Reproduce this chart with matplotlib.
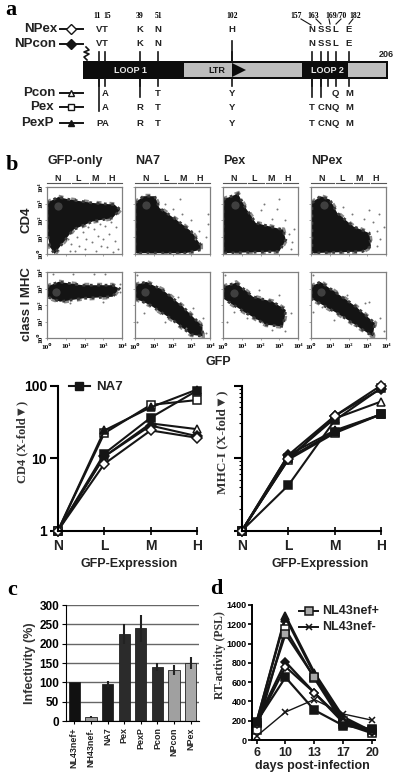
import matplotlib
matplotlib.use('Agg')
import matplotlib.pyplot as plt
import numpy as np
from matplotlib.patches import Polygon, Rectangle
from matplotlib.ticker import NullFormatter, LogLocator

plt.rcParams['font.family'] = ['Liberation Sans', 'DejaVu Sans']
plt.rcParams['font.weight'] = 'bold'
SERIF = ['Liberation Serif', 'DejaVu Sans']
W, H = 400, 780
INK = '#151515'
GREY = '#a8a8a8'

# panel a
residues = [11, 15, 39, 51, 102, 157, 163, 168, 173, 182]
residue_titles = ['11', '15', '39', '51', '102', '157', '163', '169/70', '182']
npex_aa = list('VTKNHNSSLE')
npcon_aa = ['V', 'T', 'K', 'N', '', 'N', 'S', 'S', 'L', 'E']
pcon_aa = ['', 'A', '', 'T', 'Y', '', '', '', 'Q', 'M']
pex_aa = ['', 'A', 'R', 'T', 'Y', 'T', 'C', 'N', 'Q', 'M']
pexp_aa = ['P', 'A', 'R', 'T', 'Y', 'T', 'C', 'N', 'Q', 'M']
protein_len = 206

# panel b, gated blobs in log decades (outline)
flow_names = ['GFP-only', 'NA7', 'Pex', 'NPex']
gates = ['N', 'L', 'M', 'H']
cd4_blobs = [
    [(0, 3.05), (0.6, 3.4), (1.2, 3.25), (2.4, 3.05), (3.6, 2.95), (3.9, 2.65), (3.5, 2.15), (2.45, 1.95), (1.4, 1.45), (0.7, 0.45), (0.4, 0), (0.15, 0.45), (0, 1.45)],
    [(0, 3.05), (0.45, 3.45), (1.05, 3.45), (1.3, 2.75), (2.2, 2.05), (3.0, 1.35), (3.5, 0.55), (3.5, 0.25), (2.7, 0.05), (0, 0.05)],
    [(0, 3.25), (0.8, 3.6), (1.15, 2.85), (1.75, 1.85), (3.2, 1.45), (3.35, 0.85), (3.0, 0.15), (0, 0.05)],
    [(0.05, 3.05), (0.5, 3.45), (1.0, 3.25), (1.4, 2.45), (2.25, 1.65), (3.1, 1.25), (3.2, 0.45), (2.75, 0.15), (0.05, 0.05)],
]
mhc_blobs = [
    [(0, 3.1), (0.6, 3.4), (1.9, 3.2), (3.5, 3.2), (3.85, 3), (3.5, 2.5), (1.9, 2.4), (0.7, 2.2), (0, 2.5)],
    [(0, 3.2), (0.6, 3.4), (1.5, 2.9), (2.55, 1.9), (3.6, 0.7), (3.6, 0.1), (3, 0.2), (2.0, 1.1), (0.8, 2), (0, 2.4)],
    [(0, 3.1), (0.7, 3.35), (1.6, 2.5), (2.65, 2.2), (3.35, 1.7), (3.2, 0.7), (2.3, 0.8), (1.25, 1.5), (0, 2.4)],
    [(0, 3.1), (0.5, 3.4), (1.4, 2.7), (2.4, 1.9), (3.4, 0.9), (3.3, 0.1), (2.75, 0.5), (1.55, 1.4), (0, 2.4)],
]
# stray events seen outside the blobs
cd4_stray = [
    [(1.6, 1.0), (1.9, 1.3), (2.2, 1.6), (2.5, 1.5), (2.8, 1.8), (3.1, 1.7), (3.4, 1.9), (3.7, 1.6), (1.3, 0.6), (1.7, 0.5), (2.1, 0.9), (2.4, 0.7), (2.7, 1.1), (3.0, 0.9), (3.3, 1.2), (3.6, 0.8), (1.5, 0.2), (2.0, 0.3), (2.6, 0.2), (3.2, 0.4), (3.8, 0.3), (3.5, 0.1), (1.1, 0.9), (2.9, 0.5), (1.2, 0.2)],
    [(1.6, 3.0), (2.0, 2.7), (2.5, 2.4), (3.0, 2.0), (3.4, 1.4), (3.8, 1.0), (3.9, 2.4), (3.9, 1.8), (2.4, 3.3), (3.2, 0.9)],
    [(2.0, 2.6), (2.6, 2.1), (3.0, 3.3), (3.3, 2.0), (3.5, 1.2), (3.7, 0.7), (3.6, 0.3), (2.9, 2.7), (2.2, 3.0), (3.8, 1.5)],
    [(1.7, 2.8), (2.2, 2.4), (2.8, 2.1), (3.3, 1.9), (3.5, 1.4), (3.7, 0.9), (3.6, 2.4), (3.5, 0.5), (3.1, 2.6), (3.9, 1.6)],
]
mhc_stray = [
    [(0.3, 3.9), (1.4, 3.9), (2.5, 3.9), (3.1, 3.9), (3.0, 2.2), (1.2, 2.1), (3.9, 3.3), (3.9, 2.8)],
    [(0.1, 3.8), (0.1, 1.0), (0.5, 1.5), (1.1, 1.7), (2.3, 2.5), (3.1, 1.8), (3.6, 1.2), (3.8, 0.3), (1.6, 1.0), (2.7, 0.6)],
    [(0.1, 3.8), (0.2, 1.0), (0.6, 1.6), (1.3, 1.2), (2.1, 1.0), (3.0, 2.6), (3.6, 1.5), (3.3, 0.4), (2.6, 0.5), (1.9, 2.9)],
    [(0.1, 3.8), (0.1, 1.6), (0.6, 1.9), (1.2, 1.1), (2.3, 0.8), (2.9, 2.1), (3.7, 1.2), (3.9, 0.4), (3.1, 2.2), (1.9, 2.6)],
]
cd4_core = [(0.6, 2.85), (0.6, 2.95), (0.65, 2.95), (0.7, 2.95)]
mhc_core = [(0.5, 2.8), (0.55, 2.8), (0.6, 2.75), (0.55, 2.8)]

# line panels
levels = ['N', 'L', 'M', 'H']
cd4_fold = {
    'Pcon': ([1, 10.5, 30, 25], '^', 'white'),
    'NPcon': ([1, 10.5, 28, 20], 'D', INK),
    'NA7': ([1, 11.5, 36, 85], 's', INK),
    'Pex': ([1, 22, 54, 63], 's', 'white'),
    'PexP': ([1, 24, 50, 88], '^', INK),
    'NPex': ([1, 8.3, 24, 19], 'D', 'white'),
}
mhc_fold = {
    'Pex': ([1, 9.5, 22, 40], 's', 'white'),
    'PexP': ([1, 11, 24, 40], '^', INK),
    'NL': ([1, 10, 23, 40], 's', INK),
    'Pcon': ([1, 10, 35, 60], '^', 'white'),
    'NA7': ([1, 4.2, 33, 92], 's', INK),
    'NPcon': ([1, 11, 38, 90], 'D', INK),
    'NPex': ([1, 9.6, 38, 100], 'D', 'white'),
}

# panel c
virus = ['NL43nef+', 'NH43nef-', 'NA7', 'Pex', 'PexP', 'Pcon', 'NPcon', 'NPex']
infectivity = [100, 10, 95, 225, 240, 140, 132, 150]
infectivity_err = [0, 3, 8, 25, 35, 10, 14, 15]
bar_colors = ['#111111', '#999999', '#1c1c1c', '#2b2b2b', '#2b2b2b', '#2b2b2b', '#a0a0a0', '#a8a8a8']

# panel d
days = ['6', '10', '13', '17', '20']
rt_activity = {
    'Pcon': ([190, 1290, 700, 240, 90], '^', 'white'),
    'PexP': ([190, 1270, 680, 220, 80], '^', INK),
    'Pex': ([100, 1150, 640, 170, 70], 's', 'white'),
    'NL43nef+': ([180, 1100, 650, 200, 100], 's', GREY),
    'NPcon': ([190, 810, 490, 200, 80], 'D', INK),
    'NPex': ([170, 760, 490, 180, 90], 'D', 'white'),
    'NA7': ([190, 650, 310, 150, 110], 's', INK),
    'NL43nef-': ([40, 290, 420, 270, 205], 'x', INK),
}


def px_axes(fig, left, top, right, bottom):
    return fig.add_axes([left / W, 1 - bottom / H, (right - left) / W, (bottom - top) / H])


fig = plt.figure(figsize=(W / 100, H / 100), dpi=100)
bg = fig.add_axes([0, 0, 1, 1])
bg.set_xlim(0, W)
bg.set_ylim(H, 0)
bg.axis('off')


def res_x(r):
    return np.interp(r, [0, 102, 157, 182, 206], [83, 232, 312, 349, 388])


bg.text(11, 10, 'a', family=SERIF, fontsize=16, ha='center', va='center')
bg.text(12, 165, 'b', family=SERIF, fontsize=16, ha='center', va='center')
bg.text(12, 590, 'c', family=SERIF, fontsize=16, ha='center', va='center')
bg.text(216, 589, 'd', family=SERIF, fontsize=16, ha='center', va='center')

# panel a schematic
bg.add_patch(Rectangle((83, 61), 305, 18, fc='#0c0c0c', ec='none'))
bg.add_patch(Rectangle((184, 63), 118, 14, fc='#bdbdbd', ec='none'))
bg.add_patch(Rectangle((348, 63), 38, 14, fc='#bdbdbd', ec='none'))
bg.add_patch(Polygon([(232, 63), (246, 70), (232, 77)], fc='#0c0c0c', ec='none'))
bg.text(131, 70.5, 'LOOP 1', color='#e8e8e8', fontsize=6.5, ha='center', va='center')
bg.text(327, 70.5, 'LOOP 2', color='#e8e8e8', fontsize=6.5, ha='center', va='center')
bg.text(217, 70.5, 'LTR', color=INK, fontsize=6.5, ha='center', va='center')
bg.text(386, 54.5, str(protein_len), fontsize=6.5, ha='center', va='center', color='#222222')
bg.plot([86, 89, 84, 89, 84, 87], [47, 50, 52, 54, 57, 60], color=INK, lw=1.2)

aa_rows = [(29, npex_aa), (44, npcon_aa), (93, pcon_aa), (108, pex_aa), (123, pexp_aa)]
for y, row in aa_rows:
    for r, aa in zip(residues, row):
        bg.text(res_x(r), y, aa, fontsize=6.8, ha='center', va='center', color='#222222')

for r in residues:
    bg.plot([res_x(r)] * 2, [52, 61], color=INK, lw=1.2)
    bg.plot([res_x(r)] * 2, [79, 86], color=INK, lw=1.2)
bg.plot([res_x(102)] * 2, [41, 61], color=INK, lw=1.2)
bg.plot([res_x(11)] * 2, [79, 111], color=INK, lw=1.2)
for r in [39, 157, 163]:
    bg.plot([res_x(r)] * 2, [79, 97], color=INK, lw=1.2)

title_x = [97, 107.5, 140, 159, 232, 296, 313, 336, 355]
for t, x in zip(residue_titles, title_x):
    bg.text(x, 15.5, t, family=SERIF, fontsize=5.5, ha='center', va='center')
for x0, y0, x1, y1 in [(301, 19, 311, 25), (316, 19, 321, 24), (329, 19, 330, 24), (341, 19, 336, 24), (353, 19, 349, 24)]:
    bg.plot([x0, x1], [y0, y1], color=INK, lw=0.8)

key_rows = [('NPex', 57, 29, 'D', 'white'), ('NPcon', 56, 44, 'D', INK), ('Pcon', 55, 93, '^', 'white'),
            ('Pex', 54, 107, 's', 'white'), ('PexP', 54, 123, '^', INK)]
for name, x, y, m, fc in key_rows:
    bg.text(x, y, name, fontsize=9.5, ha='right', va='center', color='#222222')
    bg.plot([60, 83], [y, y], color=INK, lw=1.4)
    bg.plot([71], [y], marker=m, ms=5, mfc=fc, mec=INK, mew=1)

# panel b dot plots
col_x = [47, 135, 223, 311]
decades = [0, 1, 2, 3, 4]
dec_labels = ['10⁰', '10¹', '10²', '10³', '10⁴']
for i, name in enumerate(flow_names):
    x0 = col_x[i]
    bg.text(x0, 161, name, fontsize=9, ha='left', va='center', color='#222222')
    for (a, b), g, off in zip([(0, 23), (25, 41), (43, 58), (60, 75)], gates, [11, 31, 48, 65]):
        bg.plot([x0 + a, x0 + b], [183, 183], color='#555555', lw=0.8)
        bg.text(x0 + off, 178.5, g, fontsize=6.5, ha='center', va='center', color='#222222')
    panels = [(cd4_blobs, cd4_stray, cd4_core, 187, 254), (mhc_blobs, mhc_stray, mhc_core, 272, 338)]
    for blobs, stray, core, top, bot in panels:
        ax = px_axes(fig, x0, top, x0 + 75, bot)
        ax.patch.set_alpha(0)
        ax.set_xlim(0, 4)
        ax.set_ylim(0, 4)
        ax.add_patch(Polygon(blobs[i], fc='none', ec='#8a8a8a', ls=':', lw=3.5, clip_on=True))
        ax.add_patch(Polygon(blobs[i], fc='#141414', ec='#3a3a3a', ls=':', lw=2, clip_on=True))
        sx, sy = zip(*stray[i])
        ax.scatter(sx, sy, s=2, color='#777777', lw=0)
        ax.scatter([core[i][0]], [core[i][1]], s=35, color='#4a4a4a', lw=0, alpha=0.8)
        for s in ax.spines.values():
            s.set_color('#808080')
            s.set_linewidth(0.9)
        ax.set_xticks(decades)
        ax.set_yticks(decades)
        ax.tick_params(length=1.5, width=0.5, color='#808080', labelsize=5.3)
        ax.tick_params(axis='x', pad=3)
        ax.tick_params(axis='y', pad=1)
        ax.set_xticklabels(dec_labels if blobs is mhc_blobs else [''] * 5, family=SERIF)
        ax.set_yticklabels(dec_labels if i == 0 else [''] * 5, family=SERIF, rotation=90, va='center')
bg.text(26, 220, 'CD4', fontsize=9.5, rotation=90, ha='center', va='center', color='#222222')
bg.text(27, 304, 'class I MHC', fontsize=9.5, rotation=90, ha='center', va='center', color='#222222')
bg.text(218, 362, 'GFP', fontsize=9, ha='center', va='center', color='#222222')


# line panels
def fold_panel(left, right, series, ylabel, label_x, label_size, show_y, minor):
    ax = px_axes(fig, left, 385.5, right, 530.5)
    ax.patch.set_alpha(0)
    for name, (vals, m, fc) in series.items():
        ms = 5 if m == 'D' else 6
        ax.plot(range(len(levels)), vals, color=INK, lw=1.5, marker=m, ms=ms, mfc=fc, mec=INK, mew=1.1, clip_on=False)
    ax.set_yscale('log')
    ax.set_ylim(1, 100)
    ax.set_xlim(0, 3)
    ax.spines[['top', 'right']].set_visible(False)
    ax.spines[['left', 'bottom']].set_linewidth(1.5)
    ax.set_xticks(range(len(levels)))
    ax.set_xticklabels(levels, fontsize=10, color='#222222')
    ax.tick_params(axis='x', direction='inout', length=6, width=1.2, pad=3)
    ax.tick_params(axis='y', which='major', direction='out', length=6, width=1.5, labelsize=10, pad=2)
    ax.tick_params(axis='y', which='minor', length=2.5 if minor else 0, width=0.8)
    ax.yaxis.set_major_locator(LogLocator(10))
    ax.yaxis.set_minor_formatter(NullFormatter())
    if show_y:
        ax.set_yticks([1, 10, 100])
        ax.set_yticklabels(['1', '10', '100'])
    else:
        ax.yaxis.set_major_formatter(NullFormatter())
    bg.text(label_x, 442, ylabel, family=SERIF, fontsize=label_size, rotation=90, ha='center', va='center', color='#333333')
    bg.text((left + right) / 2 + 2 if show_y else 320, 563.5, 'GFP-Expression', fontsize=9, ha='center', va='center', color='#222222')
    return ax


fold_panel(58, 197, cd4_fold, 'CD4 (X-fold▼)', 22, 9, True, False)
fold_panel(242, 381, mhc_fold, 'MHC-I (X-fold▼)', 222, 9.5, False, True)
bg.plot([69, 90], [386, 386], color=INK, lw=1.5, marker='None')
bg.plot([79], [386], marker='s', ms=6, color=INK)
bg.text(96, 387, 'NA7', fontsize=9.5, ha='left', va='center', color='#222222')

# panel c
ax = px_axes(fig, 66, 605, 199, 721)
ax.patch.set_alpha(0)
ax.yaxis.grid(True, color='#666666', lw=1)
ax.set_axisbelow(True)
ax.bar(range(len(virus)), infectivity, width=0.68, color=bar_colors, edgecolor='#222222', lw=0.6)
ax.errorbar(range(len(virus)), infectivity, yerr=infectivity_err, fmt='none', ecolor='#222222', elinewidth=1.5, capsize=0)
ax.set_xlim(-0.5, 7.5)
ax.set_ylim(0, 300)
ax.set_yticks(range(0, 301, 50))
ax.tick_params(axis='y', labelsize=8.5, length=3, width=0.8, pad=2)
ax.set_xticks(range(len(virus)))
ax.set_xticklabels(virus, rotation=90, fontsize=6.4, color='#222222')
ax.tick_params(axis='x', length=2.5, width=0.8, pad=2)
ax.spines[['top', 'right']].set_visible(False)
ax.set_ylabel('Infectivity (%)', fontsize=9, fontweight='bold', labelpad=2, color='#333333')

# panel d
ax = px_axes(fig, 252, 605, 375, 740)
ax.patch.set_alpha(0)
for name, (vals, m, fc) in rt_activity.items():
    thin = name == 'NL43nef-'
    ms = 4 if thin else (4.5 if m == 'D' else 5.5)
    ax.plot(range(len(days)), vals, color=INK, lw=1.0 if thin else 1.6, marker=m, ms=ms,
            mfc=fc, mec=INK, mew=1.1, clip_on=False)
ax.set_xlim(-0.16, 4.1)
ax.set_ylim(0, 1400)
ax.set_yticks(range(0, 1401, 200))
ax.tick_params(axis='y', labelsize=6.5, length=3, width=1.2, pad=1)
ax.set_xticks(range(len(days)))
ax.set_xticklabels(days, fontsize=9, color='#222222')
ax.tick_params(axis='x', length=3, width=1.2, pad=2)
ax.spines[['top', 'right']].set_visible(False)
ax.spines[['left', 'bottom']].set_linewidth(1.4)
bg.text(220, 655, 'RT-activity (PSL)', family=SERIF, fontsize=8.5, rotation=90, ha='center', va='center', color='#333333')
bg.text(312, 766, 'days post-infection', fontsize=9, ha='center', va='center', color='#222222')
for y, name, m, fc, ms in [(611, 'NL43nef+', 's', GREY, 5.5), (627, 'NL43nef-', 'x', INK, 4)]:
    bg.plot([299, 318], [y, y], color=INK, lw=1.4)
    bg.plot([309], [y], marker=m, ms=ms, mfc=fc, mec=INK, mew=1.1)
    bg.text(322, y + 0.5, name, fontsize=9, ha='left', va='center', color='#222222')

fig.savefig('out.png', dpi=100)
